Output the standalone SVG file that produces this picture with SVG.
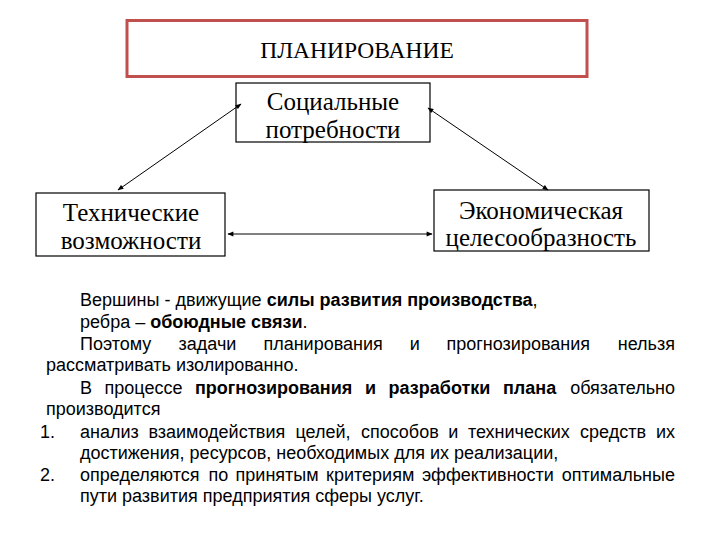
<svg xmlns="http://www.w3.org/2000/svg" width="720" height="540" viewBox="0 0 720 540">
<style>
.box{fill:#fff;stroke:#000;stroke-width:1.2}
.top{fill:#fff;stroke:#c0504d;stroke-width:3}
.ser{font-family:"Liberation Serif","Times New Roman",serif;fill:#000;text-anchor:middle;font-size:25px}
.t{font-family:"Liberation Sans",Arial,sans-serif;font-size:18px;fill:#000}
.b{font-weight:bold}
.e{text-anchor:end}
.conn{stroke:#000;stroke-width:1;fill:none;marker-start:url(#ah);marker-end:url(#ah)}
</style>
<defs>
<marker id="ah" viewBox="0 0 10 10" refX="9" refY="5" markerWidth="7" markerHeight="6" orient="auto-start-reverse" markerUnits="userSpaceOnUse">
<path d="M0,1 L10,5 L0,9 z" fill="#000"/>
</marker>
</defs>
<rect width="720" height="540" fill="#fff"/>
<g id="planning">
<rect class="top" x="127" y="20.5" width="460" height="56"/>
<text class="ser" x="357" y="58" style="font-size:23.5px">ПЛАНИРОВАНИЕ</text>
</g>
<g id="social">
<rect class="box" x="236" y="83" width="194" height="59"/>
<text class="ser" x="333" y="110">Социальные</text>
<text class="ser" x="333" y="138">потребности</text>
</g>
<g id="technical">
<rect class="box" x="36" y="193" width="189" height="63"/>
<text class="ser" x="131" y="221">Технические</text>
<text class="ser" x="131" y="249">возможности</text>
</g>
<g id="economic">
<rect class="box" x="434" y="190" width="215" height="61"/>
<text class="ser" x="541" y="219">Экономическая</text>
<text class="ser" x="541" y="246">целесообразность</text>
</g>
<g id="connectors">
<line class="conn" x1="241" y1="104" x2="118" y2="190"/>
<line class="conn" x1="428" y1="108" x2="548" y2="190"/>
<line class="conn" x1="228" y1="234" x2="432" y2="234"/>
</g>
<g id="text">
<text class="t" x="80" y="306">Вершины - движущие <tspan class="b">силы развития производства</tspan>,</text>
<text class="t" x="80" y="328">ребра – <tspan class="b">обоюдные связи</tspan>.</text>
<text class="t" x="80" y="350">Поэтому</text>
<text class="t" x="178.5" y="350">задачи</text>
<text class="t" x="263.4" y="350">планирования</text>
<text class="t" x="409.7" y="350">и</text>
<text class="t" x="446.5" y="350">прогнозирования</text>
<text class="t e" x="675" y="350">нельзя</text>
<text class="t" x="46" y="371">рассматривать изолированно.</text>
<text class="t" x="80" y="394">В</text>
<text class="t" x="104.5" y="394">процессе</text>
<text class="t b" x="195" y="394">прогнозирования</text>
<text class="t b" x="365" y="394">и</text>
<text class="t b" x="388.6" y="394">разработки</text>
<text class="t b" x="503" y="394">плана</text>
<text class="t e" x="675" y="394">обязательно</text>
<text class="t" x="46" y="415">производится</text>
<text class="t" x="40" y="438">1.</text>
<text class="t" x="80" y="438">анализ</text>
<text class="t" x="148.4" y="438">взаимодействия</text>
<text class="t" x="295.4" y="438">целей,</text>
<text class="t" x="360.9" y="438">способов</text>
<text class="t" x="448.2" y="438">и</text>
<text class="t" x="467.9" y="438">технических</text>
<text class="t" x="580.1" y="438">средств</text>
<text class="t e" x="675" y="438">их</text>
<text class="t" x="80" y="459">достижения, ресурсов, необходимых для их реализации,</text>
<text class="t" x="40" y="481">2.</text>
<text class="t" x="80" y="481">определяются</text>
<text class="t" x="208.4" y="481">по</text>
<text class="t" x="235.6" y="481">принятым</text>
<text class="t" x="326.1" y="481">критериям</text>
<text class="t" x="421.9" y="481">эффективности</text>
<text class="t e" x="675" y="481">оптимальные</text>
<text class="t" x="80" y="502">пути  развития предприятия сферы услуг.</text>
</g>
</svg>
